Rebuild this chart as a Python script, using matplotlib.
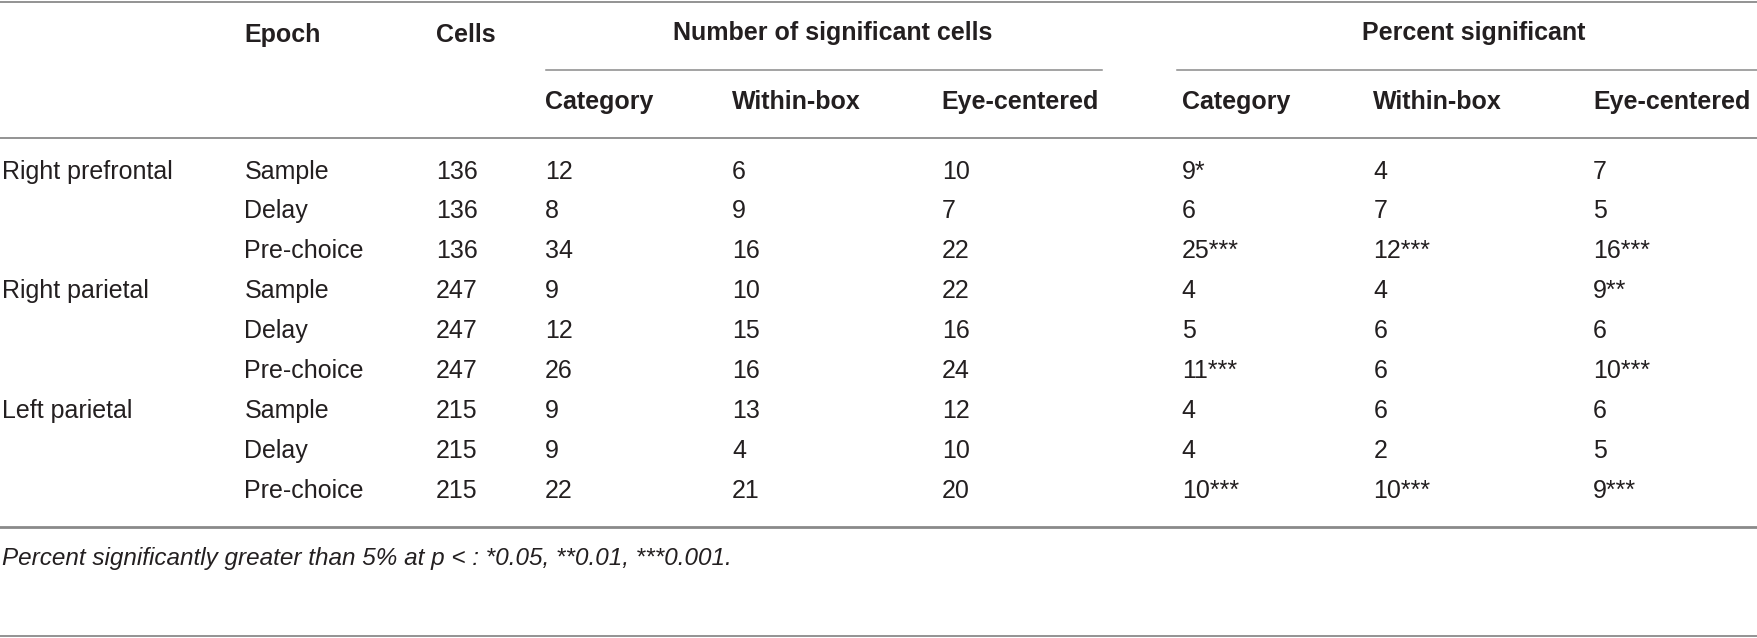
import matplotlib.pyplot as plt
from matplotlib import font_manager as fm

# table contents
regions = ['Right prefrontal', 'Right parietal', 'Left parietal']
epochs = ['Sample', 'Delay', 'Pre-choice']
cells = [136, 136, 136, 247, 247, 247, 215, 215, 215]
n_category = [12, 8, 34, 9, 12, 26, 9, 9, 22]
n_within = [6, 9, 16, 10, 15, 16, 13, 4, 21]
n_eye = [10, 7, 22, 22, 16, 24, 12, 10, 20]
pct_category = ['9*', '6', '25***', '4', '5', '11***', '4', '4', '10***']
pct_within = ['4', '7', '12***', '4', '6', '6', '6', '2', '10***']
pct_eye = ['7', '5', '16***', '9**', '6', '10***', '6', '5', '9***']
sub_headers = ['Category', 'Within-box', 'Eye-centered']
footnote = 'Percent significantly greater than 5% at p < : *0.05, **0.01, ***0.001.'

names = {f.name for f in fm.fontManager.ttflist}
fam = 'Liberation Sans Narrow' if 'Liberation Sans Narrow' in names else 'Liberation Sans'
plt.rcParams['font.family'] = [fam, 'DejaVu Sans']

W, H = 1568, 569  # layout units (scaled to the output size)
fig = plt.figure(figsize=(17.58, 6.38), dpi=100)
ax = fig.add_axes([0, 0, 1, 1])
ax.set_xlim(0, W)
ax.set_ylim(H, 0)
ax.axis('off')

txt = '#231f20'
line_c = '#8a8a8a'
fs = 18

x_region, x_epoch, x_cells = 2, 218, 389
x_num = [486, 653, 840]
x_pct = [1054, 1225, 1421]

# rules
ax.plot([0, W], [2, 2], color=line_c, lw=1.3)
ax.plot([487, 983], [62, 62], color=line_c, lw=1.1)
ax.plot([1050, W], [62, 62], color=line_c, lw=1.1)
ax.plot([0, W], [123, 123], color=line_c, lw=1.3)
ax.plot([0, W], [470, 470], color=line_c, lw=2.0)
ax.plot([0, W], [567, 567], color=line_c, lw=1.3)

# headers
ax.text(x_epoch, 31, 'Epoch', fontsize=fs, fontweight='bold', color=txt, va='center')
ax.text(x_cells, 31, 'Cells', fontsize=fs, fontweight='bold', color=txt, va='center')
ax.text(743, 29, 'Number of significant cells', fontsize=fs, fontweight='bold', color=txt,
        va='center', ha='center')
ax.text(1314, 29, 'Percent significant', fontsize=fs, fontweight='bold', color=txt,
        va='center', ha='center')
for i, h in enumerate(sub_headers):
    ax.text(x_num[i], 91, h, fontsize=fs, fontweight='bold', color=txt, va='center')
    ax.text(x_pct[i], 91, h, fontsize=fs, fontweight='bold', color=txt, va='center')

# body rows
row_y0, row_dy = 153, 35.6
for r in range(len(cells)):
    y = row_y0 + r * row_dy
    if r % 3 == 0:
        ax.text(x_region, y, regions[r // 3], fontsize=fs, color=txt, va='center')
    ax.text(x_epoch, y, epochs[r % 3], fontsize=fs, color=txt, va='center')
    ax.text(x_cells, y, str(cells[r]), fontsize=fs, color=txt, va='center')
    for x, v in zip(x_num, [n_category[r], n_within[r], n_eye[r]]):
        ax.text(x, y, str(v), fontsize=fs, color=txt, va='center')
    for x, v in zip(x_pct, [pct_category[r], pct_within[r], pct_eye[r]]):
        ax.text(x, y, v, fontsize=fs, color=txt, va='center')

ax.text(x_region, 498, footnote, fontsize=17.5, style='italic', color=txt, va='center')

fig.savefig('out.png', dpi=100)
